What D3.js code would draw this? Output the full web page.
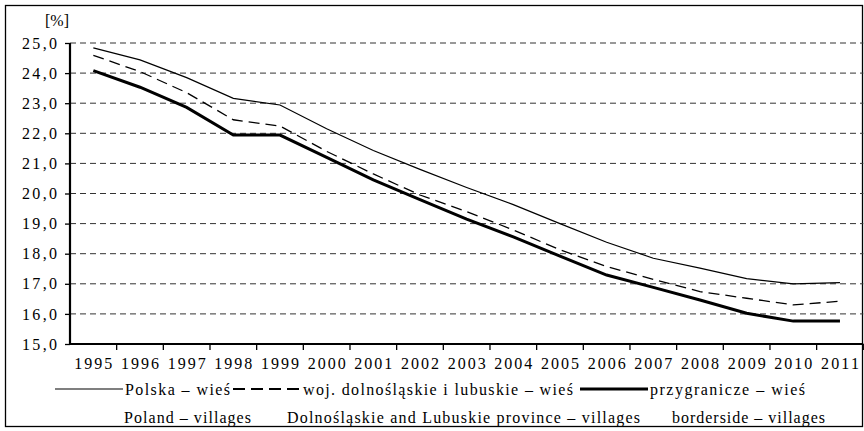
<!DOCTYPE html>
<html>
<head>
<meta charset="utf-8">
<script src="https://cdn.jsdelivr.net/npm/d3@7"></script>
<style>
    body { margin: 0; background: #fff; }
    svg text { font-family: "Liberation Serif", "Times New Roman", "DejaVu Serif", serif !important; fill: #000; }
</style>
</head>
<body>
<div class="container"></div>
<script>
let years = [1995, 1996, 1997, 1998, 1999, 2000, 2001, 2002, 2003, 2004, 2005, 2006, 2007, 2008, 2009, 2010, 2011]
let polska = [24.84, 24.44, 23.85, 23.16, 22.94, 22.15, 21.43, 20.8, 20.2, 19.63, 19.0, 18.38, 17.85, 17.52, 17.17, 17.0, 17.04]
let dolnoslaskie = [24.59, 24.05, 23.35, 22.45, 22.24, 21.4, 20.65, 19.95, 19.4, 18.79, 18.13, 17.57, 17.15, 16.74, 16.52, 16.3, 16.42]
let przygranicze = [24.08, 23.53, 22.86, 21.94, 21.94, 21.2, 20.45, 19.8, 19.15, 18.56, 17.92, 17.29, 16.88, 16.46, 16.02, 15.76, 15.76]
let yTicks = [15, 16, 17, 18, 19, 20, 21, 22, 23, 24, 25]
let legendPl = ['Polska – wieś', 'woj. dolnośląskie i lubuskie – wieś', 'przygranicze – wieś']
let legendEn = ['Poland – villages', 'Dolnośląskie and Lubuskie province – villages', 'borderside – villages']

let width = 864
let height = 431
let margin = { top: 43, left: 70, bottom: 344, right: 863.3 }

let series = [
    { values: polska, width: 1.2, dash: null },
    { values: dolnoslaskie, width: 1.3, dash: '11,6' },
    { values: przygranicze, width: 3, dash: null }
]

let svg = d3.select('.container')
    .append('svg')
    .attr('width', width)
    .attr('height', height)

// frame
svg.append('rect')
    .attr('x', 5.5)
    .attr('y', 5.5)
    .attr('width', 857)
    .attr('height', 421)
    .attr('fill', 'none')
    .attr('stroke', '#000')
    .attr('stroke-width', 1.3)

let xScale = d3.scaleBand()
    .domain(years)
    .range([margin.left, margin.right])

let yScale = d3.scaleLinear()
    .domain([15, 25])
    .range([margin.bottom, margin.top])

// gridlines
svg.selectAll('.grid')
    .data(yTicks.slice(1))
    .enter()
    .append('line')
    .attr('class', 'grid')
    .attr('x1', margin.left)
    .attr('x2', margin.right)
    .attr('y1', d => yScale(d))
    .attr('y2', d => yScale(d))
    .attr('stroke', '#333')
    .attr('stroke-width', 1)
    .attr('stroke-dasharray', '6,4')

let yAxis = d3.axisLeft(yScale)
    .tickValues(yTicks)
    .tickSize(5)
    .tickPadding(8)
    .tickFormat(d => d3.format('.1f')(d).replace('.', ','))

let gy = svg.append('g')
    .attr('transform', `translate(${margin.left},0)`)
    .call(yAxis)
gy.select('.domain').attr('stroke-width', 2.2).attr('d', `M0,${margin.bottom}V${margin.top}`)
gy.selectAll('.tick line').attr('stroke-width', 1.3)
gy.selectAll('.tick text')
    .attr('font-size', 16)
    .attr('textLength', 35)
    .attr('lengthAdjust', 'spacing')

let xAxis = d3.axisBottom(xScale)
    .tickSize(0)
    .tickPadding(14)

let gx = svg.append('g')
    .attr('transform', `translate(0,${margin.bottom})`)
    .call(xAxis)
gx.select('.domain').attr('stroke-width', 2).attr('d', `M${margin.left},0H${margin.right}`)
gx.selectAll('.tick text')
    .attr('font-size', 16)
    .attr('textLength', 38)
    .attr('lengthAdjust', 'spacing')

// category boundary ticks
gx.selectAll('.bound')
    .data(years.slice(1).concat(['end']))
    .enter()
    .append('line')
    .attr('class', 'bound')
    .attr('x1', d => d === 'end' ? margin.right : xScale(d))
    .attr('x2', d => d === 'end' ? margin.right : xScale(d))
    .attr('y1', 0)
    .attr('y2', 6)
    .attr('stroke', '#000')
    .attr('stroke-width', 1.3)

svg.append('text')
    .attr('x', 57)
    .attr('y', 26)
    .attr('text-anchor', 'middle')
    .attr('font-size', 16)
    .text('[%]')

let line = d3.line()
    .x((d, i) => xScale(years[i]) + xScale.bandwidth() / 2)
    .y(d => yScale(d))

series.forEach((s) => {
    svg.append('path')
        .datum(s.values)
        .attr('d', line)
        .attr('fill', 'none')
        .attr('stroke', '#000')
        .attr('stroke-width', s.width)
        .attr('stroke-dasharray', s.dash)
})

// legend layout
let legendSamples = [55, 233, 580]
let legendPlX = [125, 303, 650]
let legendPlW = [105, 270, 155]
let legendEnX = [124, 287, 672]
let legendEnW = [127, 353, 153]

series.forEach((s, i) => {
    svg.append('line')
        .attr('x1', legendSamples[i])
        .attr('x2', legendSamples[i] + 68)
        .attr('y1', 389)
        .attr('y2', 389)
        .attr('stroke', '#000')
        .attr('stroke-width', i === 1 ? 1.8 : s.width)
        .attr('stroke-dasharray', s.dash ? '12,6' : null)

    svg.append('text')
        .attr('x', legendPlX[i])
        .attr('y', 395)
        .attr('font-size', 16)
        .attr('textLength', legendPlW[i])
        .attr('lengthAdjust', 'spacing')
        .text(legendPl[i])

    svg.append('text')
        .attr('x', legendEnX[i])
        .attr('y', 423)
        .attr('font-size', 16)
        .attr('textLength', legendEnW[i])
        .attr('lengthAdjust', 'spacing')
        .text(legendEn[i])
})
</script>
</body>
</html>
